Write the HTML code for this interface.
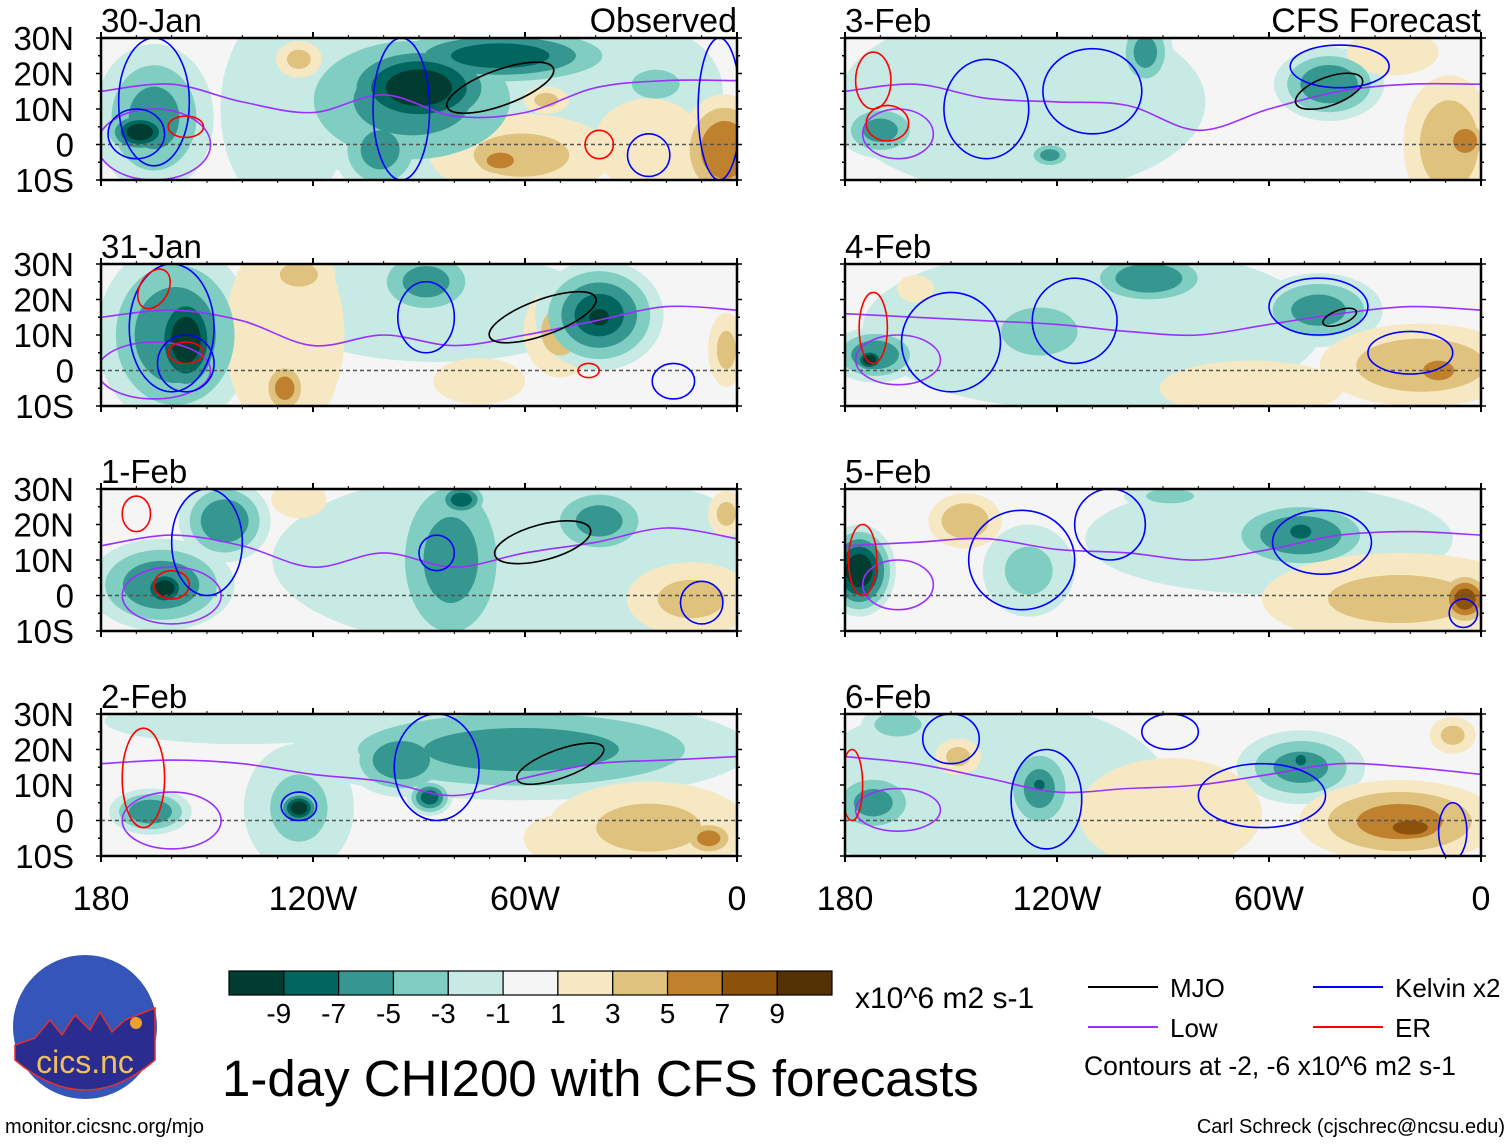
<!DOCTYPE html>
<html><head><meta charset="utf-8">
<style>
body{margin:0;background:#fff;}
svg text{font-family:"Liberation Sans",sans-serif;}
</style></head>
<body>
<svg id="chart" width="1510" height="1142" viewBox="0 0 1510 1142" xmlns="http://www.w3.org/2000/svg">
<g id="panels"></g>
<g id="legend"></g>
</svg>
<script>
// ---- data ----
const panelTitles = ["30-Jan","31-Jan","1-Feb","2-Feb","3-Feb","4-Feb","5-Feb","6-Feb"];
const latTicks = ["30N","20N","10N","0","10S"];
const lonTicks = ["180","120W","60W","0"];
const levelLabels = ["-9","-7","-5","-3","-1","1","3","5","7","9"];
const negColors = ["#c7eae5","#80cdc1","#35978f","#01665e","#003c30"];
const posColors = ["#f6e8c3","#dfc27d","#bf812d","#8c510a","#543005"];
const barColors = ["#003c30","#01665e","#35978f","#80cdc1","#c7eae5","#f5f5f5","#f6e8c3","#dfc27d","#bf812d","#8c510a","#543005"];
// blobs: [lonW, lat, rxDeg, ryDeg, peakValue]
const blobs0 = [[128,10,14,22,-2],[30,15,20,15,-2],[165,7.5,13,16,-5],[169,3.5,8,5,-9],[92,12.5,30,18,-5],[90,16,20,11,-9],[67,25,28,7,-7],[101,-1.5,10,10,-5],[61,-3,20,9,3],[67,-4.5,7,4,5],[124,24,5,4,3],[54,12.5,5,3,3],[3.5,-1.5,10,12,6],[23,17,10,6,-3],[25,0,12,10,2]];
const blobs1 = [[85,18,35,12,-2],[159,10,17,20,-6],[156,8.6,9,14,-9],[128,10,13,22,2],[124,27,8,5,3],[128,-5,5,6,5],[88,25,12,8,-5],[50,11,8,10,3],[39,15.6,14,12,-7],[39,15,6,5,-9],[3,5.8,4,8,3],[73,-3,10,5,2]];
const blobs2 = [[60,10,55,20,-2],[163,3,16,10,-6],[162,2,6,5,-9],[145,21,10,9,-6],[81,10,14,22,-5],[78,27,6,4,-7],[39,21,12,8,-5],[13,-1,14,8,3],[124,27,6,4,2],[3,23,4,5,3]];
const blobs3 = [[140,28,30,5,-2],[166,2.5,9,5,-6],[124,3.5,12,14,-3],[124,3.5,5,4,-9],[61,20,50,11,-5],[95,17,12,8,-6],[87,6.5,5,4,-7],[25,-2,22,10,3],[8,-5,6,4,5],[50,-5,8,5,2]];
const blobs4 = [[130,12,40,20,-2],[170,4,9,6,-5],[43,17,12,8,-6],[95,26,6,8,-5],[9,0,10,15,4],[4.5,1,5,5,6],[25,26,10,5,2],[122,-3,5,3,-5]];
const blobs5 = [[110,12,50,18,-2],[171.5,4.4,10,6,-6],[173,3,4,3,-9],[125,11,16,10,-3],[94,26,14,6,-6],[46,17,14,8,-5],[17,1.5,22,9,4],[12,0,8,5,5],[65,-5,20,6,2],[160,23,4,3,2]];
const blobs6 = [[60,16,40,12,-2],[176,7,8,10,-9],[146,21,8,6,4],[128,7,10,10,-3],[51,17,17,8,-6],[51,18,6,4,-7],[23,-1,30,10,3],[4.5,-1,6,6,7],[88,28,10,3,-3]];
const blobs7 = [[140,8,40,20,-2],[172,5,10,7,-5],[125,9,8,10,-5],[125,10,3,3,-7],[165,27,8,4,-4],[51,15,14,8,-5],[51,17,3,3,-7],[23,-0.3,22,9,5],[20,-2,10,4,7],[88,2,20,12,2],[148,18,5,4,3],[8,24,5,4,3]];
const allBlobs = [blobs0,blobs1,blobs2,blobs3,blobs4,blobs5,blobs6,blobs7];
// Low (purple) line lats at lonW samples
const lowLons = [180,160,140,120,100,80,60,40,20,0];
const lowLats = [[15,17,12,9,14,8,9,16,18,18],[15,17,14,7,10,7,10,14,18,17],[14,17,14,8,12,8,12,15,19,16],[16,17,16,13,11,7,12,16,17,18],[15,17,13,12,11,4,10,15,17,17],[16,15,14,13,11,10,13,16,18,17],[14,15,16,13,12,10,13,17,18,17],[18,16,12,8,9,10,13,16,15,13]];
// contour ellipses: [lonW, lat, rxDeg, ryDeg, rotationDeg, kind]
const cont0 = [[165,0,16,10,0,"low"],[170,3,8,7,0,"kelvin"],[165,12,10,18,0,"kelvin"],[95,10,8,20,0,"kelvin"],[67,16,16,5,-20,"mjo"],[156,5,5,3,0,"er"],[39,0,4,4,0,"er"],[25,-3,6,6,0,"kelvin"],[5,10,6,20,0,"kelvin"]];
const cont1 = [[165,0,16,8,0,"low"],[156,2,8,8,0,"kelvin"],[160,12,12,18,0,"kelvin"],[156,5,5,3,0,"er"],[165,23,4,6,30,"er"],[55,15,16,5,-20,"mjo"],[42,0,3,2,0,"er"],[18,-3,6,5,0,"kelvin"],[88,15,8,10,0,"kelvin"]];
const cont2 = [[160,0,14,8,0,"low"],[160,3,5,4,0,"er"],[170,23,4,5,0,"er"],[150,15,10,15,0,"kelvin"],[85,12,5,5,0,"kelvin"],[55,15,14,5,-15,"mjo"],[10,-2,6,6,0,"kelvin"]];
const cont3 = [[160,0,14,8,0,"low"],[168,12,6,14,0,"er"],[124,4,5,4,0,"kelvin"],[50,16,13,4,-20,"mjo"],[85,15,12,15,0,"kelvin"]];
const cont4 = [[165,3,10,7,0,"low"],[168,6,6,5,0,"er"],[172,18,5,8,0,"er"],[140,10,12,14,0,"kelvin"],[110,15,14,12,0,"kelvin"],[43,15,10,4,-20,"mjo"],[40,22,14,6,0,"kelvin"]];
const cont5 = [[165,3,12,7,0,"low"],[172,12,4,10,0,"er"],[150,8,14,14,0,"kelvin"],[115,14,12,12,0,"kelvin"],[40,15,5,2,-20,"mjo"],[46,18,14,8,0,"kelvin"],[20,5,12,6,0,"kelvin"]];
const cont6 = [[165,3,10,7,0,"low"],[175,10,4,10,0,"er"],[130,10,15,14,0,"kelvin"],[105,20,10,10,0,"kelvin"],[45,15,14,9,0,"kelvin"],[5,-5,4,4,0,"kelvin"]];
const cont7 = [[165,3,12,6,0,"low"],[178,10,3,10,0,"er"],[150,23,8,7,0,"kelvin"],[123,6,10,14,0,"kelvin"],[62,7,18,9,0,"kelvin"],[88,25,8,5,0,"kelvin"],[8,-3,4,8,0,"kelvin"]];
const allCont = [cont0,cont1,cont2,cont3,cont4,cont5,cont6,cont7];
const kindColor = {mjo:"#000000",kelvin:"#0000ff",low:"#9b30ff",er:"#ff0000"};

// ---- layout ----
const NS="http://www.w3.org/2000/svg";
const colX=[101,845], rowY=[38,264,489,714], PW=636, PH=142, GROW=1.3;
function mk(tag,attrs,parent){const e=document.createElementNS(NS,tag);for(const k in attrs)e.setAttribute(k,attrs[k]);parent.appendChild(e);return e;}
const root=document.getElementById('panels');
const defs=mk('defs',{},root);

function smoothPath(pts){
  let d='M'+pts[0][0].toFixed(1)+','+pts[0][1].toFixed(1);
  for(let i=0;i<pts.length-1;i++){
    const p0=pts[Math.max(0,i-1)],p1=pts[i],p2=pts[i+1],p3=pts[Math.min(pts.length-1,i+2)];
    const c1=[p1[0]+(p2[0]-p0[0])/6,p1[1]+(p2[1]-p0[1])/6];
    const c2=[p2[0]-(p3[0]-p1[0])/6,p2[1]-(p3[1]-p1[1])/6];
    d+=' C'+c1.map(v=>v.toFixed(1)).join(',')+' '+c2.map(v=>v.toFixed(1)).join(',')+' '+p2[0].toFixed(1)+','+p2[1].toFixed(1);
  }
  return d;
}

for(let p=0;p<8;p++){
  const x0=colX[p<4?0:1], y0=rowY[p%4];
  const xs=lon=>x0+(180-lon)/180*PW;
  const ys=lat=>y0+(30-lat)/40*PH;
  const sx=PW/180, sy=PH/40;
  const g=mk('g',{},root);
  
  
  const cp=mk('clipPath',{id:'cp'+p},defs);
  mk('rect',{x:x0,y:y0,width:PW,height:PH},cp);
  const inner=mk('g',{'clip-path':'url(#cp'+p+')'},g);
  mk('rect',{x:x0,y:y0,width:PW,height:PH,fill:'#f5f5f5'},inner);
  const bl=allBlobs[p];
  [1,3,5,7,9].forEach((t,li)=>{
    bl.forEach(b=>{
      const a=Math.abs(b[4]); if(t>a) return;
      const s=(1-0.72*(t-1)/a)*GROW;
      const e=mk('ellipse',{cx:xs(b[0]),cy:ys(b[1]),rx:b[2]*sx*s,ry:b[3]*sy*s,fill:(b[4]<0?negColors:posColors)[li]},inner);
      
      
    });
  });
  const eq=mk('line',{x1:x0,x2:x0+PW,y1:ys(0),y2:ys(0),stroke:'#555','stroke-width':1.5,'stroke-dasharray':'4,3'},inner);
  
  
  const pts=lowLons.map((lo,i)=>[xs(lo),ys(lowLats[p][i])]);
  const ll=mk('path',{d:smoothPath(pts),fill:'none',stroke:kindColor.low,'stroke-width':1.6},inner);
  
  
  allCont[p].forEach(c=>{
    const cx=xs(c[0]),cy=ys(c[1]);
    const e=mk('ellipse',{cx:cx,cy:cy,rx:c[2]*sx,ry:c[3]*sy,fill:'none',stroke:kindColor[c[5]],'stroke-width':1.6,transform:'rotate('+c[4]+' '+cx+' '+cy+')'},inner);
    
    
  });
  const fr=mk('rect',{x:x0,y:y0,width:PW,height:PH,fill:'none',stroke:'#000','stroke-width':2.5},g);
  
  
  for(let lo=180;lo>=0;lo-=10){
    const major=lo%60===0, L=major?6:3;
    mk('line',{x1:xs(lo),x2:xs(lo),y1:y0+PH,y2:y0+PH+L,stroke:'#000','stroke-width':major?2:1},g);
    mk('line',{x1:xs(lo),x2:xs(lo),y1:y0,y2:y0-L,stroke:'#000','stroke-width':major?2:1},g);
  }
  for(let la=30;la>=-10;la-=5){
    const L=la%10===0?5:3;
    mk('line',{x1:x0,x2:x0-L,y1:ys(la),y2:ys(la),stroke:'#000','stroke-width':1.5},g);
    mk('line',{x1:x0+PW,x2:x0+PW+L,y1:ys(la),y2:ys(la),stroke:'#000','stroke-width':1.5},g);
  }
  const tt=mk('text',{x:x0,y:y0-6,'font-size':33,fill:'#000'},g);
  tt.textContent=panelTitles[p];
  
  
  if(p<4){
    latTicks.forEach((lb,i)=>{
      const t=mk('text',{x:74,y:ys(30-i*10)+12,'font-size':33,'text-anchor':'end'},g);
      t.textContent=lb;
      
      
    });
  }
  if(p===0||p===4){
    const t=mk('text',{x:x0+PW,y:y0-6,'font-size':34,'text-anchor':'end'},g);
    t.textContent=p===0?'Observed':'CFS Forecast';
    
    
  }
  if(p%4===3){
    lonTicks.forEach((lb,i)=>{
      const t=mk('text',{x:xs(180-i*60),y:910,'font-size':34,'text-anchor':'middle'},g);
      t.textContent=lb;
      
      
    });
  }
}

// ---- colorbar & legend ----
const lg=document.getElementById('legend');
const bx=229,by=971,bw=603/11,bh=24;
barColors.forEach((c,i)=>{
  const r=mk('rect',{x:bx+i*bw,y:by,width:bw,height:bh,fill:c,stroke:'#000','stroke-width':1.2},lg);
  
  
});
levelLabels.forEach((l,i)=>{
  const t=mk('text',{x:bx+(i+1)*bw-(l[0]==='-'?5:0),y:1023,'font-size':28,'text-anchor':'middle'},lg);
  t.textContent=l;
  
  
});
function txt(x,y,s,fs,name,anchor){const t=mk('text',{x:x,y:y,'font-size':fs,'text-anchor':anchor||'start'},lg);t.textContent=s;return t;}
txt(855,1008,'x10^6 m2 s-1',30,'colorbar-units');
txt(222,1096,'1-day CHI200 with CFS forecasts',51,'chart-title');
const items=[[1088,987,'MJO','mjo'],[1313,987,'Kelvin x2','kelvin'],[1088,1027,'Low','low'],[1313,1027,'ER','er']];
items.forEach(it=>{
  const ln=mk('line',{x1:it[0],x2:it[0]+70,y1:it[1],y2:it[1],stroke:kindColor[it[3]],'stroke-width':2},lg);
  
  
  txt(it[0]+82,it[1]+10,it[2],26,'legend-entry-'+it[3]);
});
txt(1084,1075,'Contours at -2, -6 x10^6 m2 s-1',26.5,'contour-note');
txt(5,1133,'monitor.cicsnc.org/mjo',20,'footer-url');
txt(1505,1133,'Carl Schreck (cjschrec@ncsu.edu)',20,'footer-credit','end');
const lgo=mk('g',{},lg);


mk('circle',{cx:85,cy:1027,r:72,fill:'#3556b8'},lgo);
mk('path',{d:'M15,1045 L35,1038 L50,1020 L62,1035 L75,1015 L90,1030 L100,1012 L112,1032 L125,1020 L155,1008 L155,1060 Q85,1120 15,1060 Z',fill:'#2a2d8f',stroke:'#e03030','stroke-width':1.5},lgo);
mk('circle',{cx:136,cy:1023,r:6,fill:'#f0a030'},lgo);
const lt=mk('text',{x:85,y:1073,'font-size':32,'text-anchor':'middle',fill:'#f0c060'},lgo);
lt.textContent='cics.nc';
</script>
</body></html>
